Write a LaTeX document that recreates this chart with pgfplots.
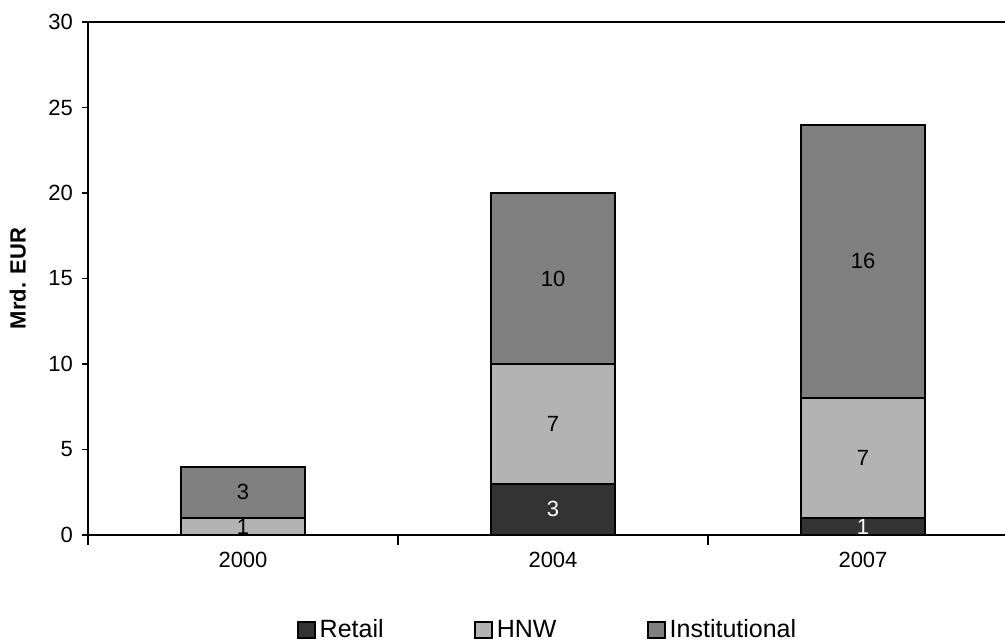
\documentclass[border=0pt]{standalone}
\usepackage{pgfplots}
\pgfplotsset{compat=1.18}
\usepackage{fontspec}
\setmainfont{Liberation Sans}
\definecolor{retail}{HTML}{333333}
\definecolor{hnw}{HTML}{B3B3B3}
\definecolor{inst}{HTML}{808080}
\begin{document}
\begin{tikzpicture}
\begin{axis}[
    at={(44pt,53.5pt)}, anchor=south west,
    scale only axis,
    width=465pt, height=256.5pt,
    ybar stacked, bar width=0.397,
    xmin=-0.5, xmax=2.5,
    ymin=0, ymax=30,
    ytick={0,5,...,30},
    xtick={0,1,2},
    xticklabels={2000,2004,2007},
    minor xtick={-0.5,0.5,1.5,2.5},
    major x tick style={draw=none},
    minor tick length=5pt,
    tick align=outside,
    major tick length=3pt,
    x tick style={black, line width=0.6pt},
    y tick style={black, line width=0.6pt},
    axis x line*=bottom,
    axis y line*=left,
    axis line style={line width=0.6pt, -},
    /pgf/number format/assume math mode=true,
    tick label style={font=\fontsize{11}{13}\selectfont},
    yticklabel style={xshift=-1pt},
    xticklabel style={yshift=-2pt},
    ylabel={Mrd. EUR},
    ylabel style={font=\bfseries\fontsize{11}{13}\selectfont, yshift=4.5pt},
    nodes near coords,
    every node near coord/.append style={font=\fontsize{11}{13}\selectfont, anchor=center},
    legend style={at={(axis description cs:0.495,-0.185)}, anchor=center,
        draw=none, legend columns=3, font=\fontsize{12.5}{15}\selectfont,
        /tikz/every even column/.append style={column sep=43pt}},
    legend image code/.code={\draw[#1, line width=1pt] (0pt,-4.2pt) rectangle (8.6pt,4.2pt);},
    clip=false,
]
\addplot[fill=retail, draw=black, line width=1pt,
    every node near coord/.append style={text=white}]
    coordinates {(0,0) (1,3) (2,1)};
\addplot[fill=hnw, draw=black, line width=1pt,
    every node near coord/.append style={text=black}]
    coordinates {(0,1) (1,7) (2,7)};
\addplot[fill=inst, draw=black, line width=1pt,
    every node near coord/.append style={text=black}]
    coordinates {(0,3) (1,10) (2,16)};
\legend{Retail, HNW, Institutional}
\draw[line width=0.6pt] (axis cs:-0.5,30) -- (axis cs:2.5,30);
\end{axis}
\pgfresetboundingbox
\path[use as bounding box] (0,0) rectangle (502.5pt,321pt);
\end{tikzpicture}
\end{document}
